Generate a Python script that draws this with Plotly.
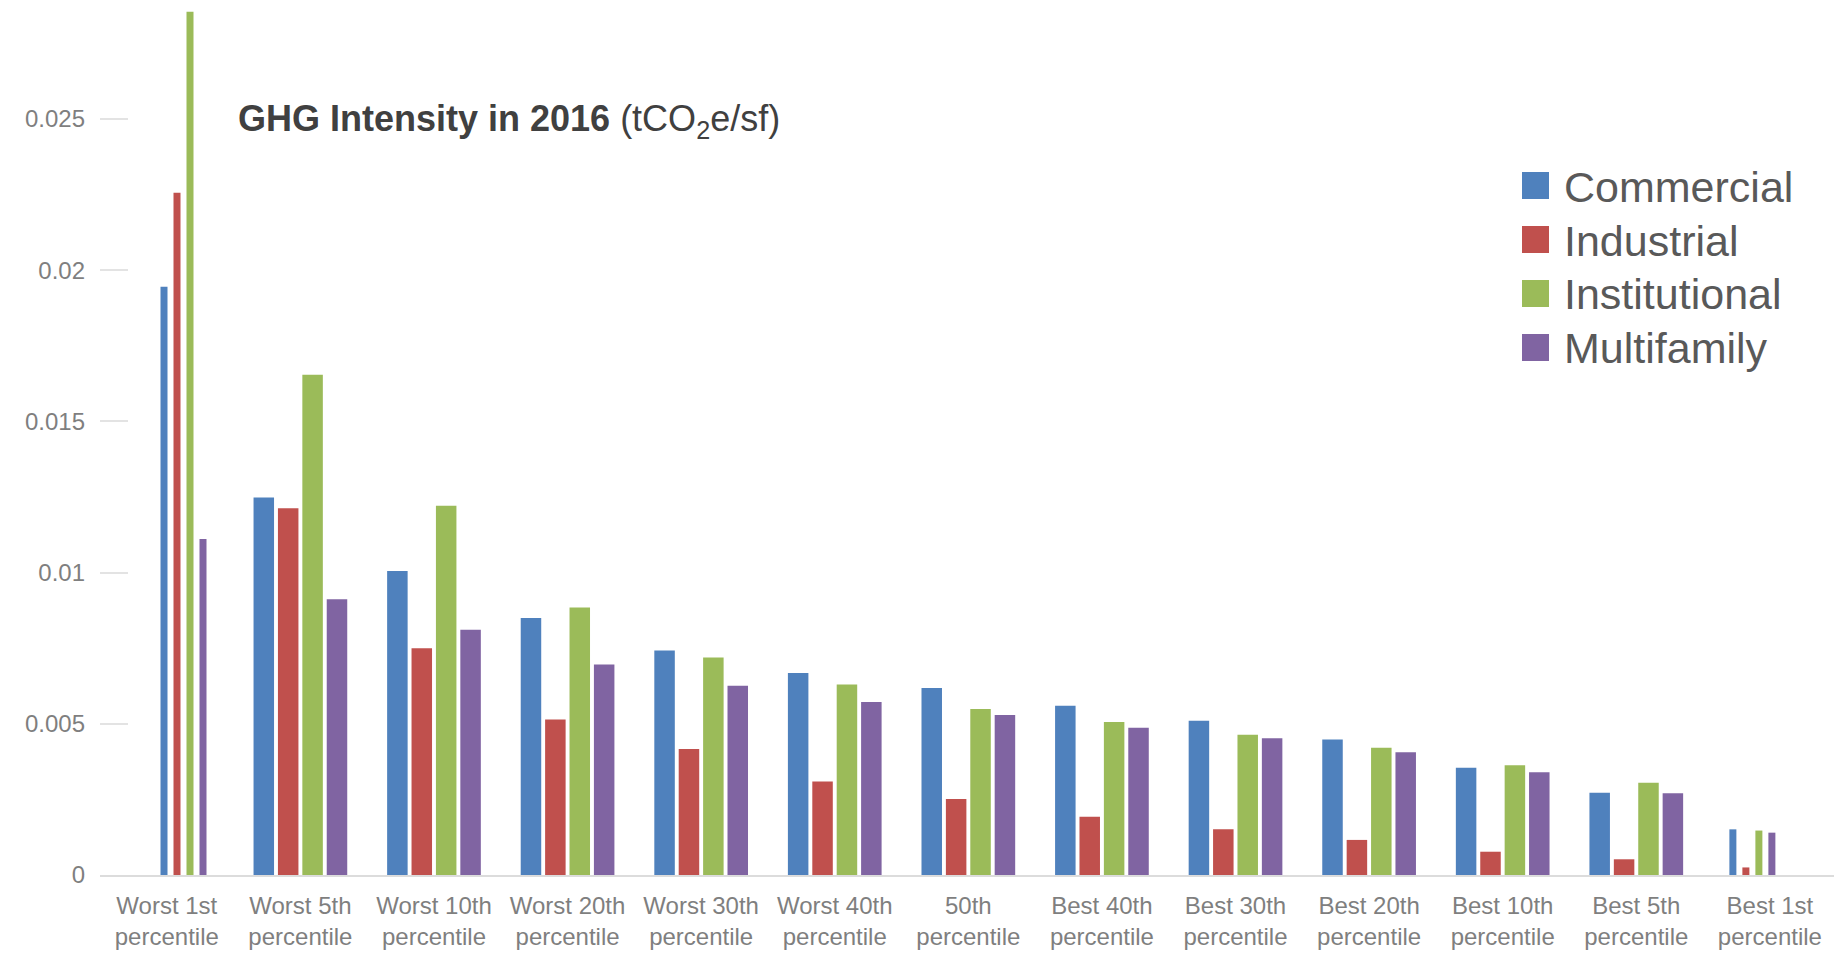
import plotly.graph_objects as go

# ---------------- data ----------------
categories = [
    "Worst 1st<br>percentile", "Worst 5th<br>percentile", "Worst 10th<br>percentile",
    "Worst 20th<br>percentile", "Worst 30th<br>percentile", "Worst 40th<br>percentile",
    "50th<br>percentile", "Best 40th<br>percentile", "Best 30th<br>percentile",
    "Best 20th<br>percentile", "Best 10th<br>percentile", "Best 5th<br>percentile",
    "Best 1st<br>percentile",
]
commercial = [0.01945, 0.01248, 0.01005, 0.00850, 0.00742, 0.00668, 0.00618,
              0.00560, 0.00510, 0.00448, 0.00355, 0.00272, 0.00151]
industrial = [0.02256, 0.01213, 0.00750, 0.00514, 0.00417, 0.00309, 0.00251,
              0.00193, 0.00151, 0.00116, 0.00077, 0.00052, 0.00025]
institutional = [0.02855, 0.01654, 0.01221, 0.00885, 0.00719, 0.00630, 0.00549,
                 0.00506, 0.00464, 0.00421, 0.00363, 0.00305, 0.00147]
multifamily = [0.01111, 0.00912, 0.00811, 0.00696, 0.00626, 0.00572, 0.00529,
               0.00487, 0.00452, 0.00406, 0.00340, 0.00270, 0.00140]
series_names = ["Commercial", "Industrial", "Institutional", "Multifamily"]
y_ticks = [0, 0.005, 0.01, 0.015, 0.02, 0.025]

# ---------------- style ----------------
FONT = "Arial, 'Liberation Sans', sans-serif"
colors = ["#4F81BD", "#C0504D", "#9BBB59", "#8064A2"]
W, H = 1834, 955
ML, MR, MT, MB = 100, 0, 0, 80
plot_w = W - ML - MR
plot_h = H - MT - MB
x_range = [-0.5, 12.48]
unit_px = plot_w / (x_range[1] - x_range[0])

normal_w = 20.5 / unit_px
normal_step = 24.4 / unit_px
thin_w = 7.0 / unit_px
thin_step = 13.0 / unit_px
thin_shift = {0: 16.7 / unit_px, len(categories) - 1: -17.5 / unit_px}

all_series = [commercial, industrial, institutional, multifamily]
fig = go.Figure()
for k, (name, vals, col) in enumerate(zip(series_names, all_series, colors)):
    widths, offsets = [], []
    for i in range(len(categories)):
        if i in thin_shift:
            c = thin_shift[i] + (k - 1.5) * thin_step
            widths.append(thin_w)
            offsets.append(c - thin_w / 2)
        else:
            c = (k - 1.5) * normal_step
            widths.append(normal_w)
            offsets.append(c - normal_w / 2)
    fig.add_trace(go.Bar(
        x=categories, y=vals, name=name, marker=dict(color=col, line=dict(width=0)),
        width=widths, offset=offsets, showlegend=False,
    ))


def px_x(px):
    return (px - ML) / plot_w


def px_y(py):
    return (MT + plot_h - py) / plot_h


annotations = [dict(
    text="<b>GHG Intensity in 2016</b> (tCO<sub>2</sub>e/sf)",
    xref="paper", yref="paper", x=px_x(236), y=px_y(121),
    xanchor="left", yanchor="middle", showarrow=False,
    font=dict(family=FONT, size=36, color="#404040"),
)]
shapes = []
legend_rows = [185.5, 239.5, 293.5, 347.5]
sq = 27
for name, col, cy in zip(series_names, colors, legend_rows):
    shapes.append(dict(
        type="rect", xref="paper", yref="paper",
        x0=px_x(1522), x1=px_x(1522 + sq), y0=px_y(cy + sq / 2), y1=px_y(cy - sq / 2),
        fillcolor=col, line=dict(width=0),
    ))
    annotations.append(dict(
        text=name, xref="paper", yref="paper", x=px_x(1562), y=px_y(cy + 1),
        xanchor="left", yanchor="middle", showarrow=False,
        font=dict(family=FONT, size=43, color="#595959"),
    ))

fig.update_layout(
    width=W, height=H,
    margin=dict(l=ML, r=MR, t=MT, b=MB, pad=0),
    barmode="overlay",
    plot_bgcolor="white", paper_bgcolor="white",
    font=dict(family=FONT, color="#7f7f7f"),
    annotations=annotations, shapes=shapes,
    showlegend=False,
)
fig.update_xaxes(
    type="category", range=x_range, showgrid=False, zeroline=False,
    showline=True, linecolor="#dcdcdc", linewidth=2,
    ticks="", tickfont=dict(family=FONT, size=24, color="#7f7f7f"), ticklabelstandoff=8,
)
fig.update_yaxes(
    range=[0, plot_h / 30240], tickvals=y_ticks, ticktext=[str(v) for v in y_ticks],
    showgrid=False, zeroline=False, showline=False,
    ticks="inside", ticklen=28, tickwidth=1.5, tickcolor="#e3e3e3",
    tickfont=dict(family=FONT, size=24, color="#7f7f7f"), ticklabelstandoff=14,
)

fig.write_html("out.html")
